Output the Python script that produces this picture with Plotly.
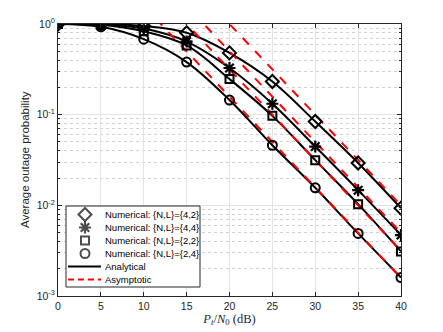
import plotly.graph_objects as go

snr_db = [0, 5, 10, 15, 20, 25, 30, 35, 40]

# Numerical / analytical outage probability per {N,L}
p_42 = [1.0, 1.0, 0.95, 0.80, 0.48, 0.232, 0.084, 0.0293, 0.0093]
p_44 = [1.0, 0.99, 0.89, 0.64, 0.327, 0.132, 0.0445, 0.0147, 0.0047]
p_22 = [1.0, 0.98, 0.83, 0.58, 0.247, 0.097, 0.0315, 0.0103, 0.0031]
p_24 = [1.0, 0.93, 0.68, 0.38, 0.145, 0.046, 0.0156, 0.0049, 0.0016]

# Asymptotic (high SNR) values
asym_x = [10, 15, 20, 25, 30, 35, 40]
a_42 = [10.0, 3.16, 1.0, 0.316, 0.1, 0.0316, 0.01]
a_44 = [5.0, 1.58, 0.5, 0.158, 0.05, 0.0158, 0.005]
a_22 = [3.16, 1.0, 0.316, 0.1, 0.0316, 0.01, 0.00316]
a_24 = [1.58, 0.5, 0.158, 0.05, 0.0158, 0.005, 0.00158]

labels = ['Numerical: {N,L}={4,2}', 'Numerical: {N,L}={4,4}',
          'Numerical: {N,L}={2,2}', 'Numerical: {N,L}={2,4}']
symbols = ['diamond-open', 'asterisk-open', 'square-open', 'circle-open']
series = [p_42, p_44, p_22, p_24]
asyms = [a_42, a_44, a_22, a_24]

# tamaños del área de dibujo (px) -- el body del html añade 8px de margen
PW, PH = 343, 272

fig = go.Figure()

# curvas analíticas
for y in series:
    fig.add_trace(go.Scatter(
        x=snr_db, y=y, mode='lines', showlegend=False,
        line=dict(color='black', width=2, shape='spline', smoothing=1.0)
    ))

# asintóticas
for y in asyms:
    fig.add_trace(go.Scatter(
        x=asym_x, y=y, mode='lines', showlegend=False,
        line=dict(color='red', width=2, dash='dash')
    ))

# marcadores (encima de las líneas)
msize = {'diamond-open': 10, 'asterisk-open': 10, 'square-open': 8, 'circle-open': 9}
mwidth = {'diamond-open': 2, 'asterisk-open': 2.2, 'square-open': 2, 'circle-open': 2}
for lab, sym, y in zip(labels, symbols, series):
    fig.add_trace(go.Scatter(
        x=snr_db, y=y, mode='markers', name=lab, showlegend=False,
        marker=dict(symbol=sym, size=msize[sym], color='black',
                    line=dict(color='black', width=mwidth[sym]))
    ))

# --- leyenda manual (estilo MATLAB, compacta) en ejes superpuestos en px ---
box_x0, box_x1, box_y0, box_y1 = 8, 142, 182, 263
row_y = [190.5, 203.5, 216.5, 229.5, 242.5, 255.5]
sym_x = 27
text_x = 45

# fondo blanco de la leyenda (tapa la rejilla)
fig.add_trace(go.Scatter(
    x=[box_x0, box_x1, box_x1, box_x0, box_x0], y=[box_y0, box_y0, box_y1, box_y1, box_y0],
    xaxis='x2', yaxis='y2', mode='lines', fill='toself', fillcolor='white',
    line=dict(color='#262626', width=1), showlegend=False, hoverinfo='skip'
))
fig.add_trace(go.Scatter(
    x=[10, 43], y=[row_y[4]] * 2, xaxis='x2', yaxis='y2', mode='lines',
    line=dict(color='black', width=2), showlegend=False, hoverinfo='skip'
))
fig.add_trace(go.Scatter(
    x=[10, 43], y=[row_y[5]] * 2, xaxis='x2', yaxis='y2', mode='lines',
    line=dict(color='red', width=2, dash='6px,4px'), showlegend=False, hoverinfo='skip'
))
fig.add_trace(go.Scatter(
    x=[sym_x] * 4, y=row_y[:4], xaxis='x2', yaxis='y2', mode='markers',
    showlegend=False, hoverinfo='skip', cliponaxis=False,
    marker=dict(symbol=symbols, size=[msize[s] for s in symbols], color='black',
                line=dict(color='black', width=[mwidth[s] for s in symbols]))
))

for txt, yy in zip(labels + ['Analytical', 'Asymptotic'], row_y):
    fig.add_annotation(x=text_x, y=yy, xref='x2', yref='y2', text=txt, showarrow=False,
                       xanchor='left', yanchor='middle',
                       font=dict(size=9.5, color='black', family='Liberation Sans, Arial'))

# título del eje y como anotación para fijar su posición
fig.add_annotation(x=-33 / PW, y=0.5, xref='paper', yref='paper',
                   text='Average outage probability', textangle=-90, showarrow=False,
                   xanchor='center', yanchor='middle',
                   font=dict(size=11.5, color='#262626', family='Liberation Sans, Arial'))

axis_common = dict(
    showline=True, linecolor='#262626', linewidth=1, mirror='allticks',
    ticks='inside', ticklen=4, tickcolor='#262626',
    zeroline=False, automargin=False,
    showgrid=True, gridcolor='#e3e3e3', gridwidth=1,
)

fig.update_layout(
    width=435, height=324,
    margin=dict(l=50, r=42, t=16, b=36),
    plot_bgcolor='white',
    paper_bgcolor='white',
    font=dict(family='Liberation Sans, Arial', size=10.5, color='#262626'),
    showlegend=False,
    xaxis=dict(
        range=[0, 40], tickvals=snr_db,
        title=dict(text='<i>P</i><sub><i>t</i></sub>/<i>N</i><sub>0</sub> (dB)',
                   font=dict(family='Liberation Serif, Times New Roman', size=12.5),
                   standoff=2),
        **axis_common
    ),
    yaxis=dict(
        type='log', range=[-3, 0],
        tickvals=[1e-3, 1e-2, 1e-1, 1],
        ticktext=['10<sup>-3</sup>', '10<sup>-2</sup>', '10<sup>-1</sup>', '10<sup>0</sup>'],
        minor=dict(ticks='inside', ticklen=2, tickcolor='#262626',
                   showgrid=True, gridcolor='#d0d0d0', griddash='dot',
                   tickvals=[m * 10.0 ** e for e in (-3, -2, -1) for m in range(2, 10)]),
        **axis_common
    ),
    xaxis2=dict(overlaying='x', range=[0, PW], visible=False, fixedrange=True),
    yaxis2=dict(overlaying='y', range=[PH, 0], visible=False, fixedrange=True),
)

fig.write_html("out.html")
